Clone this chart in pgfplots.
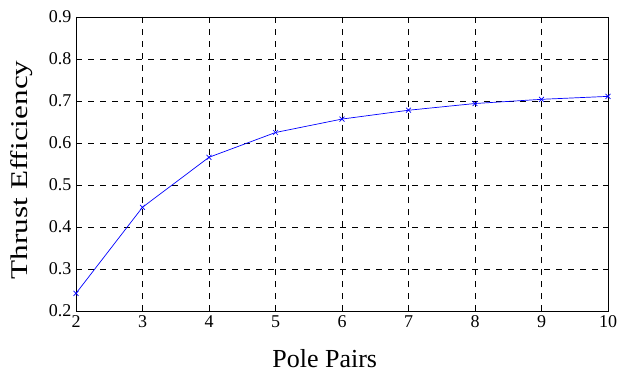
\documentclass[border=0pt]{standalone}
\usepackage{fontspec}
\setmainfont{Liberation Serif}
\usepackage{pgfplots}
\pgfplotsset{compat=1.18}
\begin{document}
\begin{tikzpicture}[x=1pt,y=1pt]
\begin{axis}[
  name=ax,
  scale only axis,
  width=532pt, height=294pt,
  xmin=2, xmax=10, ymin=0.2, ymax=0.9,
  xtick={2,3,4,5,6,7,8,9,10},
  ytick={0.2,0.3,0.4,0.5,0.6,0.7,0.8,0.9},
  xticklabels={2,3,4,5,6,7,8,9,10},
  yticklabels={0.2,0.3,0.4,0.5,0.6,0.7,0.8,0.9},
  tick label style={font=\fontsize{18}{20}\selectfont},
  tick align=inside,
  major tick length=5pt,
  xtick pos=both, ytick pos=both,
  xticklabel pos=bottom, yticklabel pos=left,
  grid=major,
  major grid style={black, line width=0.6pt, dash pattern=on 6pt off 6pt},
  axis line style={black, line width=0.9pt},
  every tick/.style={black, line width=0.7pt},
  xticklabel style={yshift=-1pt},
  yticklabel style={xshift=-1pt},
  xlabel={Pole Pairs},
  xlabel style={font=\fontsize{26}{28}\selectfont, at={(axis description cs:0.4675,-0.1905)}, anchor=base},
  ylabel={\scalebox{1.3}[1]{Thrust Efficiency}},
  ylabel style={font=\fontsize{24}{26}\selectfont, at={(axis description cs:-0.0921,0.48)}, anchor=base},
]
\addplot[blue, line width=0.7pt, mark=x, mark size=3.5pt, mark options={line width=0.7pt}]
  coordinates {(2,0.242) (3,0.447) (4,0.566) (5,0.625) (6,0.657) (7,0.678) (8,0.694) (9,0.704) (10,0.711)};
\end{axis}
\pgfresetboundingbox
\path[use as bounding box] ([shift={(-76pt,-61pt)}]ax.south west) rectangle ([shift={(14pt,17pt)}]ax.north east);
\end{tikzpicture}
\end{document}
